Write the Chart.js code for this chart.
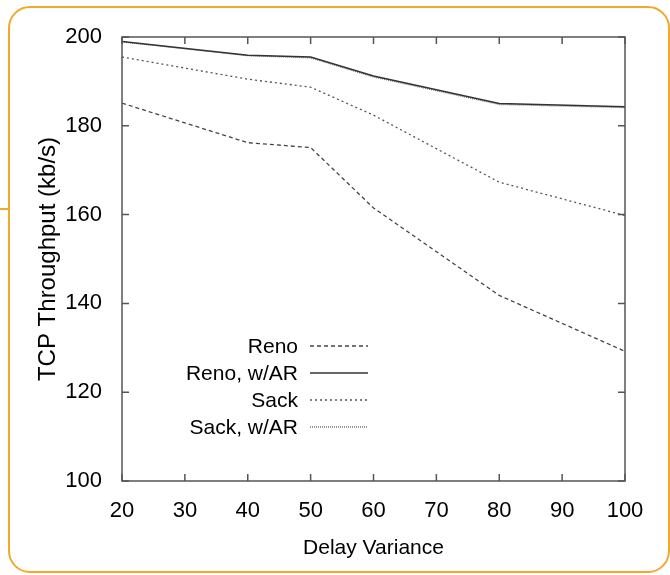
<!DOCTYPE html>
<html>
<head>
<meta charset="utf-8">
<script src="https://cdn.jsdelivr.net/npm/chart.js@4"></script>
<style>
    html, body { margin: 0; padding: 0; background: #fff; }
    #wrap { position: relative; width: 670px; height: 575px; overflow: hidden; }
    #frame {
        position: absolute; left: 8px; top: 6px; width: 662px; height: 567px;
        border: 2px solid #f3a72c; border-radius: 22px; box-sizing: border-box;
    }
    #stub { position: absolute; left: 0; top: 208px; width: 9px; height: 2px; background: #f3a72c; }
    canvas { position: absolute; left: 0; top: 0; }
</style>
</head>
<body>
<div id="wrap">
    <div id="frame"></div>
    <div id="stub"></div>
    <canvas id="lineChart" width="670" height="575"></canvas>
</div>
<script>
// delay variance values where each run was measured
let delays = [20, 40, 50, 60, 80, 100];

// TCP throughput (kb/s)
let reno = [185.1, 176.2, 175.1, 161.5, 141.8, 129.2];
let renoAR = [199.0, 195.9, 195.5, 191.2, 185.0, 184.3];
let sack = [195.5, 190.5, 188.7, 182.4, 167.3, 159.8];
let sackAR = [198.9, 195.8, 195.3, 191.0, 184.8, 184.1];

let xTicks = [20, 30, 40, 50, 60, 70, 80, 90, 100];
let yTicks = [100, 120, 140, 160, 180, 200];

function points(values) {
    return values.map((v, i) => ({ x: delays[i], y: v }));
}

const FONT = "'Liberation Sans', Arial, Helvetica, sans-serif";
const TICK = 7;

// gnuplot style box with inward ticks on all four sides, plus the legend inside the plot
const gnuplotFrame = {
    id: 'gnuplotFrame',
    afterDatasetsDraw(chart) {
        let ctx = chart.ctx;
        let a = chart.chartArea;
        let x = chart.scales.x;
        let y = chart.scales.y;

        ctx.save();
        ctx.strokeStyle = '#555';
        ctx.lineWidth = 1.5;
        ctx.setLineDash([]);
        ctx.strokeRect(a.left, a.top, a.right - a.left, a.bottom - a.top);

        ctx.beginPath();
        x.ticks.forEach(t => {
            let px = x.getPixelForValue(t.value);
            ctx.moveTo(px, a.bottom);
            ctx.lineTo(px, a.bottom - TICK);
            ctx.moveTo(px, a.top);
            ctx.lineTo(px, a.top + TICK);
        });
        y.ticks.forEach(t => {
            let py = y.getPixelForValue(t.value);
            ctx.moveTo(a.left, py);
            ctx.lineTo(a.left + TICK, py);
            ctx.moveTo(a.right, py);
            ctx.lineTo(a.right - TICK, py);
        });
        ctx.stroke();

        // legend
        let opts = chart.options.plugins.gnuplotFrame;
        ctx.font = '21px ' + FONT;
        ctx.fillStyle = '#000';
        ctx.textAlign = 'right';
        ctx.textBaseline = 'middle';
        chart.data.datasets.forEach((ds, i) => {
            let ly = opts.top + i * opts.rowGap;
            ctx.fillText(ds.label, opts.textRight, ly + 1);
            ctx.beginPath();
            ctx.strokeStyle = ds.borderColor;
            ctx.lineWidth = ds.borderWidth;
            ctx.setLineDash(ds.borderDash || []);
            ctx.moveTo(opts.textRight + 12, ly);
            ctx.lineTo(opts.textRight + 70, ly);
            ctx.stroke();
        });
        ctx.restore();
    }
};

document.addEventListener('DOMContentLoaded', function () {
    let ctx = document.getElementById('lineChart').getContext('2d');

    Chart.defaults.font.family = FONT;
    Chart.defaults.color = '#000';

    let lineChart = new Chart(ctx, {
        type: 'line',
        data: {
            datasets: [{
                label: 'Reno',
                data: points(reno),
                borderColor: '#444',
                borderWidth: 1.3,
                borderDash: [4, 3],
                pointRadius: 0
            }, {
                label: 'Reno, w/AR',
                data: points(renoAR),
                borderColor: '#333',
                borderWidth: 1.5,
                pointRadius: 0
            }, {
                label: 'Sack',
                data: points(sack),
                borderColor: '#555',
                borderWidth: 1.3,
                borderDash: [2, 3],
                pointRadius: 0
            }, {
                label: 'Sack, w/AR',
                data: points(sackAR),
                borderColor: '#777',
                borderWidth: 1.3,
                borderDash: [1, 1],
                pointRadius: 0
            }]
        },
        options: {
            responsive: false,
            animation: false,
            devicePixelRatio: 1,
            layout: {
                padding: { left: 0, top: 37, right: 45, bottom: 0 }
            },
            plugins: {
                legend: { display: false },
                tooltip: { enabled: false },
                gnuplotFrame: { textRight: 298, top: 346, rowGap: 27 }
            },
            scales: {
                x: {
                    type: 'linear',
                    min: 20,
                    max: 100,
                    afterBuildTicks: scale => { scale.ticks = xTicks.map(v => ({ value: v })); },
                    afterFit: scale => { scale.height = 94; },
                    grid: { display: false },
                    border: { display: false },
                    ticks: { font: { size: 22 }, padding: 9, maxRotation: 0, autoSkip: false },
                    title: {
                        display: true,
                        text: 'Delay Variance',
                        font: { size: 21 },
                        padding: { top: 0, bottom: 14 }
                    }
                },
                y: {
                    min: 100,
                    max: 200,
                    afterBuildTicks: scale => { scale.ticks = yTicks.map(v => ({ value: v })); },
                    afterFit: scale => { scale.width = 122; },
                    grid: { display: false },
                    border: { display: false },
                    ticks: { font: { size: 22 }, padding: 12 },
                    title: {
                        display: true,
                        text: 'TCP Throughput (kb/s)',
                        font: { size: 24 },
                        padding: { top: 34, bottom: 0 }
                    }
                }
            }
        },
        plugins: [gnuplotFrame]
    });
});
</script>
</body>
</html>
